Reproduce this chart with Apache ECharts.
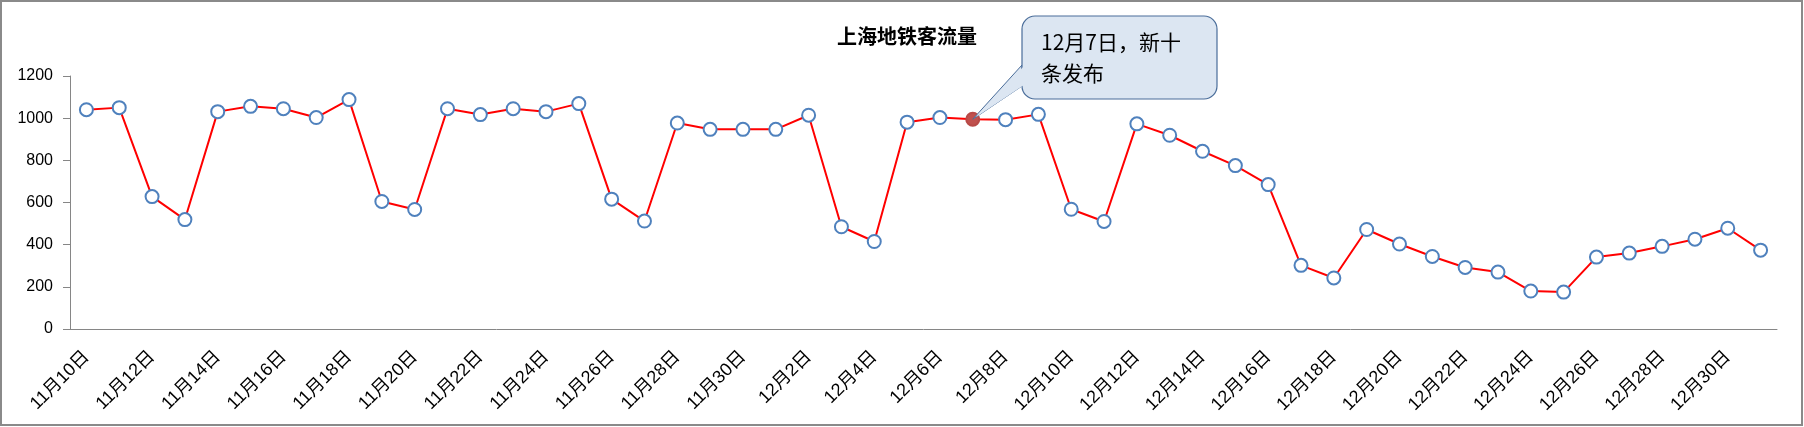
<!DOCTYPE html>
<html>
<head>
<meta charset="utf-8">
<script src="https://cdn.jsdelivr.net/npm/echarts@6/dist/echarts.min.js"></script>
<style>
html,body{margin:0;padding:0;background:#fff;}
#c{width:1804px;height:427px;}
</style>
</head>
<body>
<div id="c"></div>
<script>
const categories = [
  '11月10日','11月11日','11月12日','11月13日','11月14日','11月15日','11月16日','11月17日','11月18日','11月19日',
  '11月20日','11月21日','11月22日','11月23日','11月24日','11月25日','11月26日','11月27日','11月28日','11月29日','11月30日',
  '12月1日','12月2日','12月3日','12月4日','12月5日','12月6日','12月7日','12月8日','12月9日','12月10日',
  '12月11日','12月12日','12月13日','12月14日','12月15日','12月16日','12月17日','12月18日','12月19日','12月20日',
  '12月21日','12月22日','12月23日','12月24日','12月25日','12月26日','12月27日','12月28日','12月29日','12月30日','12月31日'
];
const flowNov = [1040,1050,628,519,1031,1056,1045,1003,1088,605,567,1045,1017,1045,1031,1069,616,512,977,947,947];
const flowDec = [947,1014,485,415,981,1003,995,993,1018,568,510,973,919,843,775,685,302,242,472,403,344,292,270,180,175,341,360,392,426,478,374];
const highlightDate = '12月7日';
const calloutLines = ['12月7日，新十', '条发布'];
const chartTitle = '上海地铁客流量';

const flow = flowNov.concat(flowDec);
const hi = categories.indexOf(highlightDate);
const seriesData = flow.map((v, i) => i === hi ? {
  value: v,
  itemStyle: { color: '#c0504d', borderColor: '#b84a47' }
} : v);

const FONT = "'Liberation Sans', 'Noto Sans CJK SC', sans-serif";
const chart = echarts.init(document.getElementById('c'), null, { renderer: 'canvas' });
const axisGray = '#868686';
chart.setOption({
  animation: false,
  backgroundColor: '#ffffff',
  title: {
    text: chartTitle,
    left: 832, top: 21,
    textStyle: { fontFamily: "'Noto Sans CJK SC', sans-serif", fontSize: 20, fontWeight: 'bold', color: '#000' }
  },
  grid: { left: 70, right: 27, top: 76, bottom: 98, containLabel: false },
  xAxis: {
    type: 'category',
    data: categories,
    boundaryGap: true,
    axisLine: { lineStyle: { color: axisGray, width: 1 } },
    axisTick: { interval: 1, length: 5, lineStyle: { color: axisGray } },
    axisLabel: { interval: 1, rotate: 45, margin: 25, fontSize: 18, color: '#000', fontFamily: FONT }
  },
  yAxis: {
    type: 'value',
    min: 0, max: 1200, interval: 200,
    splitLine: { show: false },
    axisLine: { show: true, lineStyle: { color: axisGray, width: 1 } },
    axisTick: { show: true, length: 7, lineStyle: { color: axisGray } },
    axisLabel: { fontSize: 16, color: '#000', margin: 17, fontFamily: FONT, formatter: (v) => String(v) }
  },
  series: [{
    type: 'line',
    data: seriesData,
    symbol: 'circle',
    symbolSize: 13,
    showAllSymbol: true,
    lineStyle: { color: '#ff0000', width: 2 },
    itemStyle: { color: '#ffffff', borderColor: '#4f81bd', borderWidth: 2 },
    z: 3
  }]
});

const tip = chart.convertToPixel({ xAxisIndex: 0, yAxisIndex: 0 }, [hi, flow[hi]]);
const bx = 1022, by = 16, bw = 195, bh = 83;
const fillC = '#dce6f2', strokeC = '#4a6d9a';
chart.setOption({
  graphic: [
    { type: 'rect', z: 100, silent: true,
      shape: { x: 1, y: 1, width: 1801, height: 424 },
      style: { fill: 'none', stroke: '#8a8a8a', lineWidth: 2 } },
    { type: 'polygon', z: 101,
      shape: { points: [[tip[0], tip[1]], [bx, by + 49], [bx, by + 70]] },
      style: { fill: fillC, stroke: strokeC, lineWidth: 1 } },
    { type: 'rect', z: 102,
      shape: { x: bx, y: by, width: bw, height: bh, r: 13 },
      style: { fill: fillC, stroke: strokeC, lineWidth: 1.2 } },
    { type: 'polygon', z: 103,
      shape: { points: [[tip[0] + 3, tip[1] - 2], [bx + 2, by + 50], [bx + 2, by + 69]] },
      style: { fill: fillC } },
    { type: 'text', z: 104, x: bx + 19, y: by + 11,
      style: { text: calloutLines.join('\n'), font: "21px 'Noto Sans CJK SC', sans-serif", fill: '#000', lineHeight: 31 } }
  ]
});
</script>
</body>
</html>
